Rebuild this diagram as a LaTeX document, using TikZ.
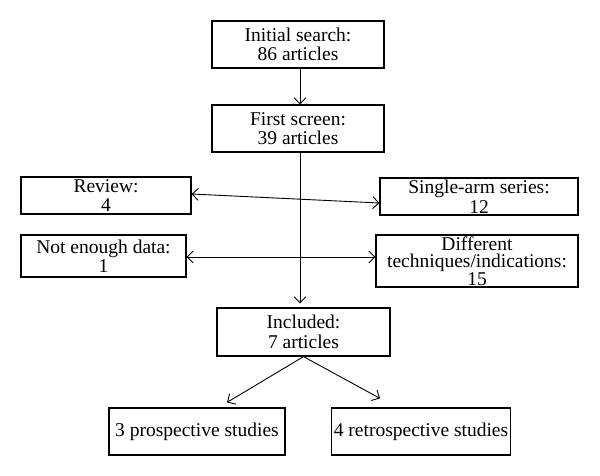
\documentclass[tikz,border=0pt]{standalone}
\usepackage{fontspec}
\setmainfont{Liberation Serif}
\usetikzlibrary{arrows.meta}

\begin{document}
\begin{tikzpicture}[x=1pt,y=-1pt,
    flow box/.style={draw,line width=1.2pt,align=center,inner sep=2pt,
      font=\fontsize{19.5}{19.5}\selectfont},
    flow arrow/.style={line width=0.9pt,-{Straight Barb[length=6pt,width=12pt]}},
    flow both/.style={line width=0.9pt,
      {Straight Barb[length=6pt,width=12pt]}-{Straight Barb[length=6pt,width=12pt]}}]
  \useasboundingbox (0,0) rectangle (600,476);

  % main column
  \node[flow box,minimum width=172pt,minimum height=47pt] (init) at (298,44.5)
    {Initial search:\\86 articles};
  \node[flow box,minimum width=172pt,minimum height=47pt] (first) at (298,128.5)
    {First screen:\\39 articles};
  \node[flow box,minimum width=173pt,minimum height=48pt] (incl) at (303.5,332)
    {Included:\\7 articles};

  % excluded
  \node[flow box,minimum width=170pt,minimum height=37pt] (review) at (106,195.5)
    {Review:\\4};
  \node[flow box,minimum width=198pt,minimum height=37pt] (single) at (479,196.5)
    {Single-arm series:\\12};
  \node[flow box,minimum width=165pt,minimum height=42pt] (nodata) at (103.5,256)
    {Not enough data:\\1};
  \node[flow box,minimum width=202pt,minimum height=52pt,inner ysep=0pt,
    font=\fontsize{19.5}{17.6}\selectfont] (diff) at (477,261)
    {Different\\techniques/indications:\\15};

  % studies
  \node[flow box,minimum width=176pt,minimum height=47pt] (prosp) at (197,431.5)
    {3 prospective studies};
  \node[flow box,minimum width=178pt,minimum height=47pt] (retro) at (421,431.5)
    {4 retrospective studies};

  \draw[flow arrow] ([xshift=2pt]init.south) -- ([xshift=2pt]first.north);
  \draw[flow arrow,shorten >=4pt] ([xshift=2pt]first.south)
    -- ([xshift=2pt]first.south |- incl.north);
  \draw[flow both] ([yshift=1.5pt]review.east) -- ([yshift=-6.5pt]single.west);
  \draw[flow both] ([yshift=-1pt]nodata.east) -- ([yshift=-1pt]nodata.east -| diff.west);
  \draw[flow arrow] (incl.south) -- ([xshift=30pt,yshift=5pt]prosp.north);
  \draw[flow arrow] (incl.south) -- ([xshift=-41pt,yshift=9pt]retro.north);
\end{tikzpicture}
\end{document}
